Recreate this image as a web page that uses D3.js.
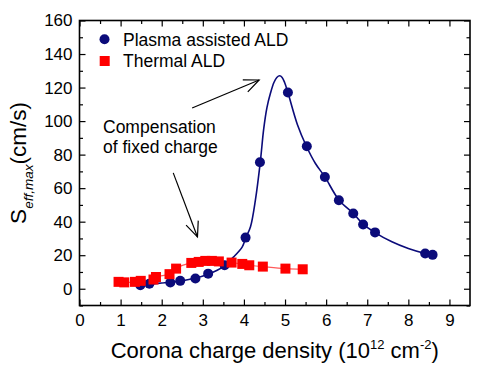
<!DOCTYPE html>
<html><head><meta charset="utf-8">
<script src="https://cdn.jsdelivr.net/npm/d3@7"></script>
<style>body{margin:0;background:#fff}svg{display:block}text{font-family:"Liberation Sans",Arial,sans-serif;fill:#000}</style>
</head><body>
<svg id="c" width="483" height="369"></svg>
<script>
// Data
const plasmaX = [1.48,1.70,2.21,2.45,2.82,3.13,3.53,4.04,4.39,5.07,5.53,5.97,6.31,6.66,6.90,7.19,8.41,8.59];
const plasmaY = [2.1,3.0,3.7,4.7,6.1,9.0,14,30.5,75.5,117,85,66.7,52.8,44.9,38.3,33.6,21,20.2];
const fitX = [1.45,1.70,2.00,2.20,2.45,2.80,3.13,3.35,3.53,3.75,3.96,4.05,4.16,4.28,4.40,4.48,4.56,4.65,4.73,4.80,4.87,4.93,4.99,5.07,5.30,5.52,5.74,5.97,6.31,6.66,6.90,7.19,7.60,8.00,8.41,8.60];
const fitY = [2.0,2.8,3.4,3.8,4.6,6.2,8.7,11,14,19,25,30.6,37,53,76,95,108,117,123,126,127,126,123,117,98,85,74.7,66.7,53,45,38.5,33.5,28,24,21,20];
const thermalX = [0.95,1.09,1.35,1.49,1.80,1.86,2.19,2.35,2.72,2.90,3.06,3.22,3.39,3.70,3.96,4.13,4.46,5.01,5.43];
const thermalY = [4.1,3.8,4.1,4.7,5.5,7.0,8.7,12,15.4,16,16.6,16.6,16.3,15.6,14.8,14,13.2,12,11.6];
const xTicks = [0,1,2,3,4,5,6,7,8,9];
const xMinor = [0.5,1.5,2.5,3.5,4.5,5.5,6.5,7.5,8.5];
const yTicks = [0,20,40,60,80,100,120,140,160];
const yMinor = [-10,10,30,50,70,90,110,130,150];
const seriesNames = ["Plasma assisted ALD","Thermal ALD"];
const annotationLines = ["Compensation","of fixed charge"];
const arrowA = [[2.74,107.8],[4.37,124.5]];
const arrowB = [[2.28,69.1],[2.87,30.9]];

const svg = d3.select("#c");
const L=79.5, R=470, T=20.5, B=305.5;
const x = d3.scaleLinear().domain([0,9.5]).range([L,R]);
const y = d3.scaleLinear().domain([-10,160]).range([B,T]);
const navy = "#0b0b7a", red = "#ff0000";

function styleAxis(g){ g.select(".domain").remove(); g.selectAll("line").attr("stroke","#000").attr("stroke-width",1.2); g.selectAll("text").attr("font-size","17px").attr("font-family","Liberation Sans, Arial, sans-serif").attr("fill","#000"); }

// bottom
svg.append("g").attr("transform",`translate(0,${B})`).call(d3.axisBottom(x).tickValues(xTicks).tickSize(-6).tickPadding(8.5).tickFormat(d3.format("d"))).call(styleAxis);
svg.append("g").attr("transform",`translate(0,${B})`).call(d3.axisBottom(x).tickValues(xMinor).tickSize(-3.5).tickFormat("")).call(styleAxis);
// top
svg.append("g").attr("transform",`translate(0,${T})`).call(d3.axisTop(x).tickValues(xTicks).tickSize(-6).tickFormat("")).call(styleAxis);
svg.append("g").attr("transform",`translate(0,${T})`).call(d3.axisTop(x).tickValues(xMinor).tickSize(-3.5).tickFormat("")).call(styleAxis);
// left
svg.append("g").attr("transform",`translate(${L},0)`).call(d3.axisLeft(y).tickValues(yTicks).tickSize(-6).tickPadding(7).tickFormat(d3.format("d"))).call(styleAxis);
svg.append("g").attr("transform",`translate(${L},0)`).call(d3.axisLeft(y).tickValues(yMinor).tickSize(-3.5).tickFormat("")).call(styleAxis);
// right
svg.append("g").attr("transform",`translate(${R},0)`).call(d3.axisRight(y).tickValues(yTicks).tickSize(-6).tickFormat("")).call(styleAxis);
svg.append("g").attr("transform",`translate(${R},0)`).call(d3.axisRight(y).tickValues(yMinor).tickSize(-3.5).tickFormat("")).call(styleAxis);

// frame
svg.append("rect").attr("x",L).attr("y",T).attr("width",R-L).attr("height",B-T).attr("fill","none").attr("stroke","#000").attr("stroke-width",1.6);

// thermal line
const tData = thermalX.map((d,i)=>[d,thermalY[i]]);
svg.append("path").datum(tData).attr("fill","none").attr("stroke","#ff5a5a").attr("stroke-width",1.2)
  .attr("d",d3.line().x(d=>x(d[0])).y(d=>y(d[1])).curve(d3.curveMonotoneX));
// plasma fit
const fData = fitX.map((d,i)=>[d,fitY[i]]);
svg.append("path").datum(fData).attr("fill","none").attr("stroke",navy).attr("stroke-width",1.6)
  .attr("d",d3.line().x(d=>x(d[0])).y(d=>y(d[1])).curve(d3.curveCatmullRom.alpha(0.5)));

// markers
const pData = plasmaX.map((d,i)=>[d,plasmaY[i]]);
svg.append("g").selectAll("circle").data(pData).join("circle")
  .attr("cx",d=>x(d[0])).attr("cy",d=>y(d[1])).attr("r",5).attr("fill",navy);
svg.append("g").selectAll("rect").data(tData).join("rect")
  .attr("x",d=>x(d[0])-5).attr("y",d=>y(d[1])-5).attr("width",10).attr("height",10).attr("fill",red);

// legend
const lg = svg.append("g");
lg.append("circle").attr("cx",104.5).attr("cy",39.3).attr("r",5).attr("fill",navy);
lg.append("text").attr("x",123).attr("y",45.5).attr("font-size","17.5px").text(seriesNames[0]);
lg.append("rect").attr("x",99.7).attr("y",56).attr("width",10).attr("height",10).attr("fill",red);
lg.append("text").attr("x",123).attr("y",67).attr("font-size","17.5px").text(seriesNames[1]);

// annotation
svg.append("text").attr("x",103).attr("y",133).attr("font-size","17.5px").text(annotationLines[0]);
svg.append("text").attr("x",103).attr("y",153).attr("font-size","17.5px").text(annotationLines[1]);

svg.append("defs").append("marker").attr("id","ah").attr("markerUnits","userSpaceOnUse")
  .attr("markerWidth",20).attr("markerHeight",20).attr("refX",0).attr("refY",0)
  .attr("viewBox","-16 -10 20 20").attr("orient","auto")
  .append("path").attr("d","M-15,-6.5 L0,0 L-15,6.5").attr("fill","none").attr("stroke","#000").attr("stroke-width",1.2);
[arrowA,arrowB].forEach(a=>{
  svg.append("line").attr("x1",x(a[0][0])).attr("y1",y(a[0][1])).attr("x2",x(a[1][0])).attr("y2",y(a[1][1]))
    .attr("stroke","#000").attr("stroke-width",1.2).attr("marker-end","url(#ah)");
});

// axis titles
const xt = svg.append("text").attr("x",(L+R)/2).attr("y",358).attr("text-anchor","middle").attr("font-size","22px");
xt.append("tspan").text("Corona charge density (10");
xt.append("tspan").attr("font-size","13px").attr("dy",-9).text("12");
xt.append("tspan").attr("dy",9).text(" cm");
xt.append("tspan").attr("font-size","13px").attr("dy",-9).text("-2");
xt.append("tspan").attr("dy",9).text(")");

const yt = svg.append("text").attr("transform",`translate(26,${(T+B)/2}) rotate(-90)`).attr("text-anchor","middle").attr("font-size","22.5px");
yt.append("tspan").text("S");
yt.append("tspan").attr("font-size","13.5px").attr("font-style","italic").attr("dy",7).text("eff,max");
yt.append("tspan").attr("dy",-7).text("(cm/s)");
</script>
</body></html>
